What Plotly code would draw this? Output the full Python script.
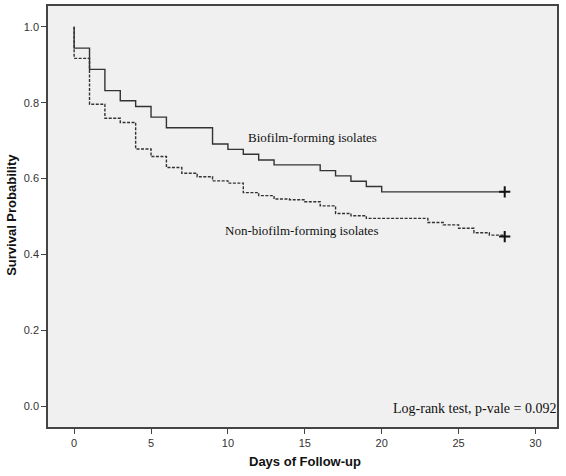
import plotly.graph_objects as go

bio_days = [0, 0, 1, 2, 3, 4, 5, 6, 9, 10, 11, 12, 13, 16, 17, 18, 19, 20, 28]
bio_surv = [1.0, 0.944, 0.888, 0.832, 0.805, 0.790, 0.762, 0.734, 0.691, 0.677,
            0.664, 0.649, 0.636, 0.621, 0.607, 0.593, 0.579, 0.565, 0.565]

non_days = [0, 0, 1, 2, 3, 4, 5, 6, 7, 8, 9, 10, 11, 12, 13, 14, 15, 16, 17, 18,
            19, 23, 24, 25, 26, 27, 28]
non_surv = [1.0, 0.917, 0.796, 0.759, 0.748, 0.678, 0.658, 0.629, 0.614, 0.605,
            0.594, 0.588, 0.563, 0.555, 0.546, 0.544, 0.539, 0.528, 0.508, 0.502,
            0.495, 0.484, 0.478, 0.469, 0.457, 0.451, 0.447]

censor_days = [28, 28]
censor_surv = [0.565, 0.447]

x_ticks = [0, 5, 10, 15, 20, 25, 30]
y_ticks = [0.0, 0.2, 0.4, 0.6, 0.8, 1.0]

line_color = "#333333"

fig = go.Figure()
fig.add_trace(go.Scatter(x=bio_days, y=bio_surv, mode="lines", line_shape="hv",
                         line=dict(color=line_color, width=1.4), showlegend=False))
fig.add_trace(go.Scatter(x=non_days, y=non_surv, mode="lines", line_shape="hv",
                         line=dict(color=line_color, width=1.4, dash="3px,1.5px"),
                         showlegend=False))
fig.add_trace(go.Scatter(x=censor_days, y=censor_surv, mode="markers",
                         marker=dict(symbol="cross-thin", size=8,
                                     line=dict(color="#111111", width=2)),
                         showlegend=False))

fig.add_annotation(x=15.5, y=0.707, text="Biofilm-forming isolates", showarrow=False,
                   font=dict(family="Liberation Serif", size=13, color="#111111"))
fig.add_annotation(x=14.8, y=0.462, text="Non-biofilm-forming isolates", showarrow=False,
                   font=dict(family="Liberation Serif", size=13, color="#111111"))
fig.add_annotation(xref="paper", x=1.0, y=-0.005, xanchor="right", borderpad=0,
                   text="Log-rank test, p-vale = 0.092", showarrow=False,
                   font=dict(family="Liberation Serif", size=14, color="#111111"))

fig.add_annotation(xref="paper", yref="paper", x=0.505, y=-0.083,
                   xanchor="center", yanchor="middle",
                   text="<b>Days of Follow-up</b>", showarrow=False,
                   font=dict(family="Liberation Sans", size=13, color="#111111"))
fig.add_annotation(xref="paper", yref="paper", x=-0.0707, y=0.504, textangle=-90,
                   xanchor="center", yanchor="middle",
                   text="<b>Survival Probability</b>", showarrow=False,
                   font=dict(family="Liberation Sans", size=13, color="#111111"))

axis_common = dict(showline=True, linecolor="#444444", linewidth=1.5, mirror=True,
                   ticks="outside", ticklen=5, tickcolor="#444444", tickwidth=1.3,
                   showgrid=False, zeroline=False, automargin=False,
                   tickfont=dict(family="Liberation Sans", size=11, color="#333333"))

fig.update_xaxes(range=[-1.7, 31.4], tickvals=x_ticks, ticktext=[str(v) for v in x_ticks],
                 **axis_common)
fig.update_yaxes(range=[-0.055, 1.055], tickvals=y_ticks,
                 ticktext=[f"{v:.1f}" for v in y_ticks],
                 **axis_common)

fig.update_layout(width=566, height=476, paper_bgcolor="white", plot_bgcolor="#f0f0f0",
                  margin=dict(l=48, r=9, t=6, b=49))

fig.write_html("out.html", config={"displayModeBar": False},
               post_script="document.body.style.margin='0';")
